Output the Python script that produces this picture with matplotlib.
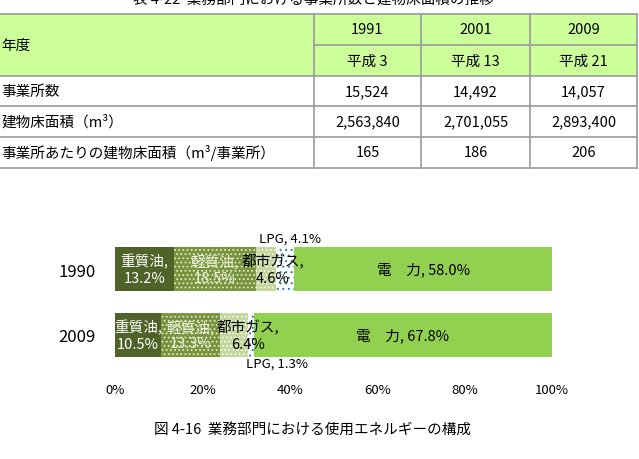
import matplotlib
matplotlib.use("Agg")
import matplotlib.pyplot as plt
from matplotlib.patches import Rectangle
import numpy as np

plt.rcParams['font.family'] = ['Noto Sans CJK JP', 'DejaVu Sans']
plt.rcParams['hatch.linewidth'] = 0.8

# ---------------- data ----------------
table_title = "表 4-22  業務部門における事業所数と建物床面積の推移"
table_years = ["1991", "2001", "2009"]
table_heisei = ["平成 3", "平成 13", "平成 21"]
table_header = "年度"
table_rows = ["事業所数", "建物床面積（m³）", "事業所あたりの建物床面積（m³/事業所）"]
table_values = [
    ["15,524", "14,492", "14,057"],
    ["2,563,840", "2,701,055", "2,893,400"],
    ["165", "186", "206"],
]

chart_years = ["1990", "2009"]
energy_names = ["重質油", "軽質油", "都市ガス", "LPG", "電　力"]
share_1990 = [13.2, 18.5, 4.6, 4.1, 58.0]
share_2009 = [10.5, 13.3, 6.4, 1.3, 67.8]
x_ticks = [0, 20, 40, 60, 80, 100]
caption = "図 4-16  業務部門における使用エネルギーの構成"

# ---------------- figure ----------------
W, H = 639, 460
fig = plt.figure(figsize=(W / 100, H / 100), dpi=100)

bg = fig.add_axes([0, 0, 1, 1])
bg.set_xlim(0, W)
bg.set_ylim(H, 0)
bg.axis('off')

row_y = [15, 46, 77, 107, 138, 169]
col_x = [-2, 314, 421, 530, 637]
grid_col = "#9a9a9a"
header_fill = "#ccff99"

bg.add_patch(Rectangle((col_x[0], row_y[0]), col_x[-1] - col_x[0], row_y[2] - row_y[0],
                       facecolor=header_fill, edgecolor='none', zorder=1))
for i, y in enumerate(row_y):
    x0 = col_x[1] if i == 1 else col_x[0]
    bg.plot([x0, col_x[-1]], [y, y], color=grid_col, lw=1.2, zorder=2)
for x in col_x[1:]:
    bg.plot([x, x], [row_y[0], row_y[-1]], color=grid_col, lw=1.2, zorder=2)

tfs = 10.5
bg.text(W / 2 - 6, 0, table_title, ha='center', va='center', fontsize=tfs, zorder=3)
bg.text(1, (row_y[0] + row_y[2]) / 2, table_header, ha='left', va='center', fontsize=tfs, zorder=3)
for j in range(3):
    cx = (col_x[j + 1] + col_x[j + 2]) / 2
    bg.text(cx, (row_y[0] + row_y[1]) / 2, table_years[j], ha='center', va='center', fontsize=tfs, zorder=3)
    bg.text(cx, (row_y[1] + row_y[2]) / 2, table_heisei[j], ha='center', va='center', fontsize=tfs, zorder=3)
for i, lab in enumerate(table_rows):
    cy = (row_y[i + 2] + row_y[i + 3]) / 2
    bg.text(1, cy, lab, ha='left', va='center', fontsize=tfs, zorder=3)
    for j in range(3):
        cx = (col_x[j + 1] + col_x[j + 2]) / 2
        bg.text(cx, cy, table_values[i][j], ha='center', va='center', fontsize=tfs, zorder=3)

# ---------------- chart ----------------
ax_l, ax_r, ax_t, ax_b = 115, 552, 220, 380
ax = fig.add_axes([ax_l / W, 1 - ax_b / H, (ax_r - ax_l) / W, (ax_b - ax_t) / H])
ax.set_xlim(0, 100)
ax.set_ylim(1.667, -0.758)

styles = [
    dict(facecolor="#4f6228", edgecolor="#4f6228", hatch=None),
    dict(facecolor="#77933c", edgecolor="#dfe8c8", hatch='....'),
    dict(facecolor="#c3d69b", edgecolor="#f6f9ee", hatch='....'),
    dict(facecolor="#ffffff", edgecolor="#31859c", hatch='...'),
    dict(facecolor="#92d050", edgecolor="#92d050", hatch=None),
]
label_colors = ["white", "#eef2dc", "black", "black", "black"]

data = [share_1990, share_2009]
bar_h = 0.667
for yi, vals in enumerate(data):
    vals = np.array(vals, dtype=float)
    norm = vals / vals.sum() * 100
    lefts = np.concatenate([[0], np.cumsum(norm)[:-1]])
    for k in range(len(vals)):
        st = styles[k]
        ax.barh(yi, norm[k], left=lefts[k], height=bar_h, facecolor=st['facecolor'],
                edgecolor=st['edgecolor'], hatch=st['hatch'], linewidth=0)
    for k in range(len(vals)):
        cx = lefts[k] + norm[k] / 2
        txt_val = f"{vals[k]:.1f}%"
        if k == 4:
            ax.text(cx, yi, f"{energy_names[k]}, {txt_val}", ha='center', va='center',
                    fontsize=10.5, color=label_colors[k])
        elif k == 3:
            if yi == 0:
                ax.text(cx + 1.0, yi - bar_h / 2 - 0.03, f"{energy_names[k]}, {txt_val}",
                        ha='center', va='bottom', fontsize=9.5)
            else:
                ax.text(cx + 6.0, yi + bar_h / 2 + 0.0, f"{energy_names[k]}, {txt_val}",
                        ha='center', va='top', fontsize=9.5)
        else:
            dx = 0
            if k == 2:
                dx = 1.5 if yi == 0 else 3.2
            ax.text(cx + dx, yi, f"{energy_names[k]},\n{txt_val}", ha='center', va='center',
                    fontsize=10.5, color=label_colors[k], linespacing=1.2)

ax.set_yticks(range(len(chart_years)))
ax.set_yticklabels(chart_years, fontsize=12)
ax.set_xticks(x_ticks)
ax.set_xticklabels([f"{t}%" for t in x_ticks], fontsize=9.5)
ax.tick_params(axis='both', length=0)
ax.tick_params(axis='y', pad=14)
ax.tick_params(axis='x', pad=3)
for s in ax.spines.values():
    s.set_visible(False)

bg.text(313, 430, caption, ha='center', va='center', fontsize=10.5)

fig.savefig("out.png", dpi=100)
